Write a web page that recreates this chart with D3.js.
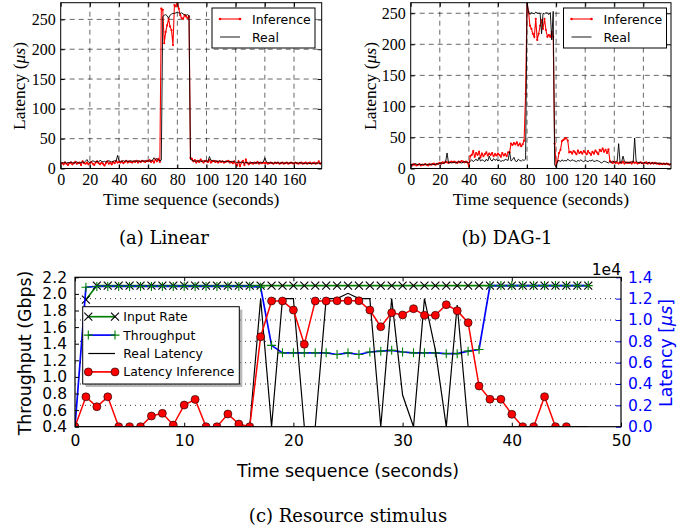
<!DOCTYPE html>
<html>
<head>
<meta charset="utf-8">
<script src="https://cdn.jsdelivr.net/npm/d3@7"></script>
<style>
  body { margin: 0; background: #fff; }
</style>
</head>
<body>
<div id="chart"></div>
<script>
// ---------- data ----------
// panels (a) and (b): one sample per second, 0..179
const seconds = d3.range(180);
const timeTicks = [0, 20, 40, 60, 80, 100, 120, 140, 160];
const latencyTicks = [0, 50, 100, 150, 200, 250];

const linearInference = [
  8, 9, 7, 10, 8, 6, 9, 10, 7, 9,
  11, 8, 9, 10, 6, 12, 9, 8, 10, 7,
  9, 11, 8, 6, 10, 12, 9, 7, 10, 8,
  5, 9, 12, 8, 10, 7, 11, 9, 13, 10,
  11, 10, 12, 9, 11, 13, 10, 12, 11, 10,
  12, 11, 13, 10, 12, 11, 13, 12, 11, 13,
  12, 14, 11, 13, 10, 15, 12, 16, 11, 268,
  266, 210, 229, 240, 251, 238, 232, 207, 274, 272,
  280, 268, 257, 252, 251, 257, 255, 252, 255, 18,
  16, 12, 14, 10, 13, 11, 15, 12, 10, 13,
  12, 11, 14, 10, 12, 13, 11, 12, 10, 12,
  11, 12, 10, 11, 12, 13, 10, 11, 9, 12,
  8, 5, 12, 4, 10, 13, 6, 15, 9, 7,
  10, 9, 8, 10, 9, 11, 8, 10, 9, 10,
  9, 10, 8, 9, 10, 9, 8, 10, 9, 10,
  8, 9, 10, 8, 9, 10, 8, 9, 10, 9,
  8, 10, 9, 8, 9, 10, 8, 9, 10, 8,
  9, 10, 8, 9, 10, 8, 9, 12, 8, 10
];
const linearReal = [
  10, 9, 10, 11, 9, 10, 10, 11, 10, 9,
  10, 11, 10, 9, 10, 11, 10, 12, 15, 11,
  10, 11, 13, 12, 11, 12, 11, 14, 12, 11,
  12, 11, 12, 13, 12, 11, 12, 13, 12, 22,
  13, 12, 12, 13, 12, 13, 12, 12, 13, 12,
  12, 13, 12, 13, 12, 12, 13, 12, 13, 12,
  13, 12, 13, 14, 18, 15, 17, 14, 13, 14,
  255, 257, 258, 256, 252, 257, 259, 260, 260, 261,
  262, 261, 260, 261, 259, 258, 257, 258, 256, 15,
  14, 13, 12, 13, 12, 13, 12, 12, 13, 12,
  13, 12, 20, 14, 13, 12, 13, 12, 12, 13,
  12, 12, 11, 12, 12, 11, 12, 11, 12, 11,
  11, 10, 11, 10, 11, 10, 9, 10, 10, 9,
  9, 10, 10, 9, 10, 9, 10, 9, 10, 11,
  18, 11, 10, 9, 10, 9, 9, 10, 9, 10,
  9, 9, 10, 9, 9, 10, 9, 9, 10, 9,
  9, 10, 9, 9, 10, 9, 9, 8, 9, 9,
  9, 8, 9, 9, 8, 9, 9, 9, 8, 9
];
const dagInference = [
  6, 5, 7, 6, 5, 6, 7, 5, 6, 6,
  7, 6, 5, 7, 6, 7, 8, 6, 7, 8,
  9, 8, 10, 9, 11, 10, 9, 10, 11, 10,
  11, 10, 9, 11, 10, 12, 11, 10, 11, 10,
  4, 20, 22, 28, 19, 25, 22, 27, 18, 24,
  20, 23, 26, 21, 24, 22, 25, 20, 23, 21,
  24, 22, 19, 25, 21, 23, 20, 26, 26, 40,
  38, 41, 39, 42, 37, 40, 36, 39, 45, 120,
  268, 252, 230, 225, 217, 212, 241, 207, 217, 230,
  239, 225, 241, 223, 212, 215, 212, 220, 212, 40,
  5, 12, 25, 30, 44, 46, 48, 49, 45, 26,
  27, 24, 28, 26, 23, 29, 25, 27, 24, 28,
  26, 23, 28, 25, 22, 27, 24, 29, 26, 23,
  30, 28, 32, 27, 30, 25, 31, 12, 10, 9,
  11, 9, 10, 8, 10, 9, 11, 8, 10, 9,
  9, 10, 8, 11, 9, 10, 8, 9, 10, 9,
  8, 9, 10, 8, 9, 8, 9, 8, 9, 8,
  8, 7, 8, 7, 8, 7, 8, 7, 6, 7
];
const dagReal = [
  6, 7, 6, 8, 7, 6, 7, 6, 7, 6,
  7, 6, 7, 6, 7, 7, 6, 7, 8, 7,
  8, 9, 8, 9, 10, 25, 9, 10, 9, 10,
  10, 9, 10, 11, 10, 9, 10, 11, 10, 10,
  9, 12, 14, 11, 13, 15, 12, 18, 12, 14,
  13, 11, 15, 12, 20, 14, 12, 16, 13, 15,
  12, 14, 11, 13, 12, 15, 14, 13, 27, 12,
  14, 18, 12, 11, 15, 13, 12, 14, 13, 15,
  267, 252, 248, 251, 250, 249, 252, 250, 250, 250,
  217, 250, 249, 251, 250, 248, 251, 207, 253, 6,
  2, 12, 13, 11, 14, 12, 13, 12, 15, 13,
  12, 14, 13, 12, 11, 13, 12, 14, 12, 11,
  13, 12, 11, 13, 12, 14, 11, 12, 13, 12,
  11, 9, 10, 12, 11, 10, 9, 11, 10, 12,
  10, 11, 12, 40, 9, 10, 20, 11, 9, 10,
  10, 9, 11, 10, 49, 12, 10, 9, 10, 8,
  9, 10, 8, 9, 10, 8, 9, 9, 8, 9,
  8, 9, 8, 7, 8, 7, 8, 7, 7, 7
];

// panel (c): one sample per second, 0..47
const stimSeconds = d3.range(48);
const stimTimeTicks = [0, 10, 20, 30, 40, 50];
const gbpsTicks = [0.4, 0.6, 0.8, 1.0, 1.2, 1.4, 1.6, 1.8, 2.0, 2.2];
const usTicks = [0, 2000, 4000, 6000, 8000, 10000, 12000, 14000];

const inputRate = [
  null, 1.93, 2.1, 2.1, 2.1, 2.1, 2.1, 2.1, 2.1, 2.1,
  2.1, 2.1, 2.1, 2.1, 2.1, 2.1, 2.1, 2.1, 2.1, 2.1,
  2.1, 2.1, 2.1, 2.1, 2.1, 2.1, 2.1, 2.1, 2.1, 2.1,
  2.1, 2.1, 2.1, 2.1, 2.1, 2.1, 2.1, 2.1, 2.1, 2.1,
  2.1, 2.1, 2.1, 2.1, 2.1, 2.1, 2.1, 2.1
];
const throughput = [
  0.4, 2.08, 2.09, 2.09, 2.09, 2.09, 2.09, 2.09, 2.09, 2.09,
  2.09, 2.09, 2.09, 2.09, 2.09, 2.09, 2.09, 2.08, 1.38, 1.29,
  1.29, 1.29, 1.29, 1.29, 1.27, 1.29, 1.27, 1.30, 1.31, 1.32,
  1.30, 1.29, 1.29, 1.29, 1.28, 1.28, 1.31, 1.33, 2.1, 2.1,
  2.1, 2.1, 2.1, 2.1, 2.1, 2.1, 2.1, 2.1
];
const realLatency = [
  0, 0, 0, 0, 0, 0, 0, 0, 0, 0,
  0, 0, 0, 0, 0, 0, 0, 12000, 0, 12000,
  12000, 0, 0, 12000, 12000, 12500, 12000, 12000, 0, 12000,
  2970, 0, 12000, 7190, 0, 11400, 0, 0, 0, 0,
  0, 0, 0, 0, 0, 0, 0, 0
];
const latencyInference = [
  0, 2800, 1870, 2800, 0, 0, 0, 1000, 1250, 150,
  2030, 2560, 0, 0, 1190, 250, 0, 8430, 11780, 11780,
  10930, 7720, 11780, 11780, 11800, 11800, 11800, 10930, 9370, 10680,
  10470, 11060, 10440, 10440, 11430, 10870, 9750, 3810, 2570, 2570,
  1160, 0, 0, 2810, 0, 0
];

// ---------- drawing ----------
const serif = "'Liberation Serif', serif";
const capSerif = "'DejaVu Serif', serif";
const sans = "'DejaVu Sans', sans-serif";

const svg = d3.select("#chart")
    .append("svg")
    .attr("width", 691)
    .attr("height", 530);

svg.append("rect").attr("width", 691).attr("height", 530).attr("fill", "#fff");

function addClip(id, left, top, right, bottom) {
    svg.append("clipPath").attr("id", id)
        .append("rect")
        .attr("x", left).attr("y", top)
        .attr("width", right - left).attr("height", bottom - top);
}

function styleAxis(sel, font, size, color) {
    sel.select(".domain").remove();
    sel.selectAll(".tick line").attr("stroke", color || "#000");
    sel.selectAll(".tick text")
        .attr("fill", color || "#000")
        .style("font-family", font)
        .style("font-size", size + "px");
}

// Latency panels (a) and (b)
function drawLatencyPanel(p) {
    const x = d3.scaleLinear().domain([0, 179]).range([p.left, p.right]);
    const y = d3.scaleLinear().domain([0, p.yMax]).range([p.bottom, p.top]);
    const g = svg.append("g");
    addClip(p.id, p.left, p.top, p.right, p.bottom);

    // dashed grid
    g.selectAll(".vgrid").data(timeTicks.slice(1)).enter().append("line")
        .attr("x1", d => x(d)).attr("x2", d => x(d))
        .attr("y1", p.top).attr("y2", p.bottom)
        .attr("stroke", "#000").attr("stroke-width", 0.6)
        .attr("stroke-dasharray", "5,4");
    g.selectAll(".hgrid").data(latencyTicks.slice(1)).enter().append("line")
        .attr("x1", p.left).attr("x2", p.right)
        .attr("y1", d => y(d)).attr("y2", d => y(d))
        .attr("stroke", "#000").attr("stroke-width", 0.6)
        .attr("stroke-dasharray", "5,4");

    const line = d3.line().x((d, i) => x(seconds[i])).y(d => y(d));

    g.append("path")
        .attr("d", line(p.inference))
        .attr("clip-path", `url(#${p.id})`)
        .attr("fill", "none").attr("stroke", "#f00").attr("stroke-width", 1.1);
    g.selectAll(".dot").data(p.inference).enter().append("circle")
        .attr("clip-path", `url(#${p.id})`)
        .attr("cx", (d, i) => x(seconds[i])).attr("cy", d => y(d))
        .attr("r", 1.1).attr("fill", "#f00");
    g.append("path")
        .attr("d", line(p.real))
        .attr("clip-path", `url(#${p.id})`)
        .attr("fill", "none").attr("stroke", "#000").attr("stroke-width", 0.9);

    // axes, ticks pointing inward
    g.append("g").attr("transform", `translate(0,${p.bottom})`)
        .call(d3.axisBottom(x).tickValues(timeTicks).tickSize(-4).tickPadding(5))
        .call(s => styleAxis(s, serif, 16));
    g.append("g").attr("transform", `translate(0,${p.top})`)
        .call(d3.axisTop(x).tickValues(timeTicks).tickSize(-4).tickFormat(""))
        .call(s => styleAxis(s, serif, 16));
    g.append("g").attr("transform", `translate(${p.left},0)`)
        .call(d3.axisLeft(y).tickValues(latencyTicks).tickSize(-4).tickPadding(5))
        .call(s => styleAxis(s, serif, 16));
    g.append("g").attr("transform", `translate(${p.right},0)`)
        .call(d3.axisRight(y).tickValues(latencyTicks).tickSize(-4).tickFormat(""))
        .call(s => styleAxis(s, serif, 16));

    g.append("rect")
        .attr("x", p.left).attr("y", p.top)
        .attr("width", p.right - p.left).attr("height", p.bottom - p.top)
        .attr("fill", "none").attr("stroke", "#000").attr("stroke-width", 1);

    // axis labels
    g.append("text")
        .attr("x", (p.left + p.right) / 2).attr("y", 205)
        .attr("text-anchor", "middle")
        .style("font-family", serif).style("font-size", "17.5px")
        .text("Time sequence (seconds)");
    const yl = g.append("text")
        .attr("transform", `translate(${p.yLabelX},86) rotate(-90)`)
        .attr("text-anchor", "middle")
        .style("font-family", serif).style("font-size", "17.5px");
    yl.append("tspan").text("Latency (");
    yl.append("tspan").style("font-style", "italic").text("μs");
    yl.append("tspan").text(")");

    // legend
    const lg = g.append("g").attr("transform", `translate(${p.legendX},8)`);
    lg.append("rect").attr("width", 103).attr("height", 40)
        .attr("fill", "#fff").attr("stroke", "#000").attr("stroke-width", 1);
    lg.append("line").attr("x1", 8).attr("x2", 28).attr("y1", 11).attr("y2", 11)
        .attr("stroke", "#f00").attr("stroke-width", 1.1);
    lg.selectAll(".ldot").data([8, 28]).enter().append("circle")
        .attr("cx", d => d).attr("cy", 11).attr("r", 1.3).attr("fill", "#f00");
    lg.append("line").attr("x1", 8).attr("x2", 28).attr("y1", 29).attr("y2", 29)
        .attr("stroke", "#000").attr("stroke-width", 0.9);
    lg.append("text").attr("x", 40).attr("y", 16)
        .style("font-family", sans).style("font-size", "12.5px").text("Inference");
    lg.append("text").attr("x", 40).attr("y", 34)
        .style("font-family", sans).style("font-size", "12.5px").text("Real");

    // caption
    svg.append("text")
        .attr("x", p.captionX).attr("y", 244)
        .attr("text-anchor", "middle")
        .style("font-family", capSerif).style("font-size", "18px")
        .text(p.caption);
}

drawLatencyPanel({
    id: "clipA", left: 60.7, right: 321.7, top: 2.7, bottom: 168.5, yMax: 278,
    inference: linearInference, real: linearReal,
    yLabelX: 24.5, legendX: 212, caption: "(a) Linear", captionX: 164
});
drawLatencyPanel({
    id: "clipB", left: 410.7, right: 671, top: 2.7, bottom: 168.5, yMax: 267,
    inference: dagInference, real: dagReal,
    yLabelX: 375.5, legendX: 563.5, caption: "(b) DAG-1", captionX: 507
});

// Panel (c): resource stimulus, two y axes
(function drawStimulusPanel() {
    const left = 75, right = 621, top = 277.3, bottom = 426.7;
    const x = d3.scaleLinear().domain([0, 50]).range([left, right]);
    const yL = d3.scaleLinear().domain([0.4, 2.2]).range([bottom, top]);
    const yR = d3.scaleLinear().domain([0, 14000]).range([bottom, top]);
    const g = svg.append("g");
    addClip("clipC", left, top, right, bottom);
    const blue = "#0000ff", green = "#008000";

    // left-axis series
    const lineL = d3.line()
        .defined(d => d != null)
        .x((d, i) => x(stimSeconds[i])).y(d => yL(d));
    g.append("path").attr("d", lineL(inputRate)).attr("clip-path", "url(#clipC)")
        .attr("fill", "none").attr("stroke", green).attr("stroke-width", 1.7);
    g.selectAll(".xm").data(inputRate.map((d, i) => [stimSeconds[i], d]).filter(d => d[1] != null))
        .enter().append("path").attr("clip-path", "url(#clipC)")
        .attr("d", d => {
            const cx = x(d[0]), cy = yL(d[1]), s = 4;
            return `M${cx - s},${cy - s}L${cx + s},${cy + s}M${cx - s},${cy + s}L${cx + s},${cy - s}`;
        })
        .attr("stroke", "#000").attr("stroke-width", 1.1);
    g.append("path").attr("d", lineL(throughput)).attr("clip-path", "url(#clipC)")
        .attr("fill", "none").attr("stroke", blue).attr("stroke-width", 1.7);
    g.selectAll(".pm").data(throughput).enter().append("path").attr("clip-path", "url(#clipC)")
        .attr("d", (d, i) => {
            const cx = x(stimSeconds[i]), cy = yL(d), s = 4.5;
            return `M${cx - s},${cy}L${cx + s},${cy}M${cx},${cy - s}L${cx},${cy + s}`;
        })
        .attr("stroke", green).attr("stroke-width", 1.1);

    // dotted grid from the right axis
    g.selectAll(".hgrid").data(usTicks.slice(1, -1)).enter().append("line")
        .attr("x1", left).attr("x2", right)
        .attr("y1", d => yR(d)).attr("y2", d => yR(d))
        .attr("stroke", "#000").attr("stroke-width", 0.8)
        .attr("stroke-dasharray", "1,4");

    // right-axis series
    const lineR = d3.line().x((d, i) => x(stimSeconds[i])).y(d => yR(d));
    g.append("path").attr("d", lineR(realLatency)).attr("clip-path", "url(#clipC)")
        .attr("fill", "none").attr("stroke", "#000").attr("stroke-width", 1.2);
    g.append("path").attr("d", lineR(latencyInference)).attr("clip-path", "url(#clipC)")
        .attr("fill", "none").attr("stroke", "#f00").attr("stroke-width", 1.5);
    g.selectAll(".cm").data(latencyInference).enter().append("circle")
        .attr("clip-path", "url(#clipC)")
        .attr("cx", (d, i) => x(stimSeconds[i])).attr("cy", d => yR(d))
        .attr("r", 4).attr("fill", "#f00").attr("stroke", "#000").attr("stroke-width", 0.6);

    // axes
    g.append("g").attr("transform", `translate(0,${bottom})`)
        .call(d3.axisBottom(x).tickValues(stimTimeTicks).tickSize(-4).tickPadding(8))
        .call(s => styleAxis(s, sans, 15.5));
    g.append("g").attr("transform", `translate(0,${top})`)
        .call(d3.axisTop(x).tickValues(stimTimeTicks).tickSize(-4).tickFormat(""))
        .call(s => styleAxis(s, sans, 15.5));
    g.append("g").attr("transform", `translate(${left},0)`)
        .call(d3.axisLeft(yL).tickValues(gbpsTicks).tickSize(-4).tickPadding(8)
            .tickFormat(d3.format(".1f")))
        .call(s => styleAxis(s, sans, 15.5));
    g.append("g").attr("transform", `translate(${right},0)`)
        .call(d3.axisRight(yR).tickValues(usTicks).tickSize(-5).tickPadding(7)
            .tickFormat(d => (d / 1e4).toFixed(1)))
        .call(s => styleAxis(s, sans, 15.5, blue));

    g.append("rect")
        .attr("x", left).attr("y", top)
        .attr("width", right - left).attr("height", bottom - top)
        .attr("fill", "none").attr("stroke", "#000").attr("stroke-width", 1.2);

    g.append("text").attr("x", right).attr("y", 275).attr("text-anchor", "end")
        .style("font-family", sans).style("font-size", "15.5px").text("1e4");

    // labels
    g.append("text").attr("x", (left + right) / 2).attr("y", 477)
        .attr("text-anchor", "middle")
        .style("font-family", sans).style("font-size", "17.4px")
        .text("Time sequence (seconds)");
    g.append("text").attr("transform", `translate(31,353) rotate(-90)`)
        .attr("text-anchor", "middle")
        .style("font-family", sans).style("font-size", "17.4px")
        .text("Throughput (Gbps)");
    const rl = g.append("text").attr("transform", `translate(672,353) rotate(-90)`)
        .attr("text-anchor", "middle").attr("fill", blue)
        .style("font-family", sans).style("font-size", "17.4px");
    rl.append("tspan").text("Latency [");
    rl.append("tspan").style("font-style", "italic").text("μs");
    rl.append("tspan").text("]");

    // legend with shadow
    const lg = g.append("g").attr("transform", "translate(82.7,306.7)");
    lg.append("rect").attr("x", 3).attr("y", 3).attr("width", 156.6).attr("height", 77.3)
        .attr("fill", "#888").attr("opacity", 0.6);
    lg.append("rect").attr("width", 156.6).attr("height", 77.3)
        .attr("fill", "#fff").attr("stroke", "#000").attr("stroke-width", 1);
    const items = [
        { label: "Input Rate", color: green, marker: "x" },
        { label: "Throughput", color: blue, marker: "+" },
        { label: "Real Latency", color: "#000", marker: null },
        { label: "Latency Inference", color: "#f00", marker: "o" }
    ];
    items.forEach((it, k) => {
        const yy = 10 + k * 18.4;
        lg.append("line").attr("x1", 5.6).attr("x2", 32.3).attr("y1", yy).attr("y2", yy)
            .attr("stroke", it.color).attr("stroke-width", it.marker ? 1.7 : 1.2);
        [5.6, 32.3].forEach(mx => {
            if (it.marker === "x") {
                lg.append("path").attr("d", `M${mx - 4},${yy - 4}L${mx + 4},${yy + 4}M${mx - 4},${yy + 4}L${mx + 4},${yy - 4}`)
                    .attr("stroke", "#000").attr("stroke-width", 1.1);
            } else if (it.marker === "+") {
                lg.append("path").attr("d", `M${mx - 4.5},${yy}L${mx + 4.5},${yy}M${mx},${yy - 4.5}L${mx},${yy + 4.5}`)
                    .attr("stroke", green).attr("stroke-width", 1.1);
            } else if (it.marker === "o") {
                lg.append("circle").attr("cx", mx).attr("cy", yy).attr("r", 4)
                    .attr("fill", "#f00").attr("stroke", "#000").attr("stroke-width", 0.6);
            }
        });
        lg.append("text").attr("x", 40.6).attr("y", yy + 4.5)
            .style("font-family", sans).style("font-size", "12.4px").text(it.label);
    });

    svg.append("text").attr("x", 348).attr("y", 522)
        .attr("text-anchor", "middle")
        .style("font-family", capSerif).style("font-size", "18px")
        .text("(c) Resource stimulus");
})();
</script>
</body>
</html>
